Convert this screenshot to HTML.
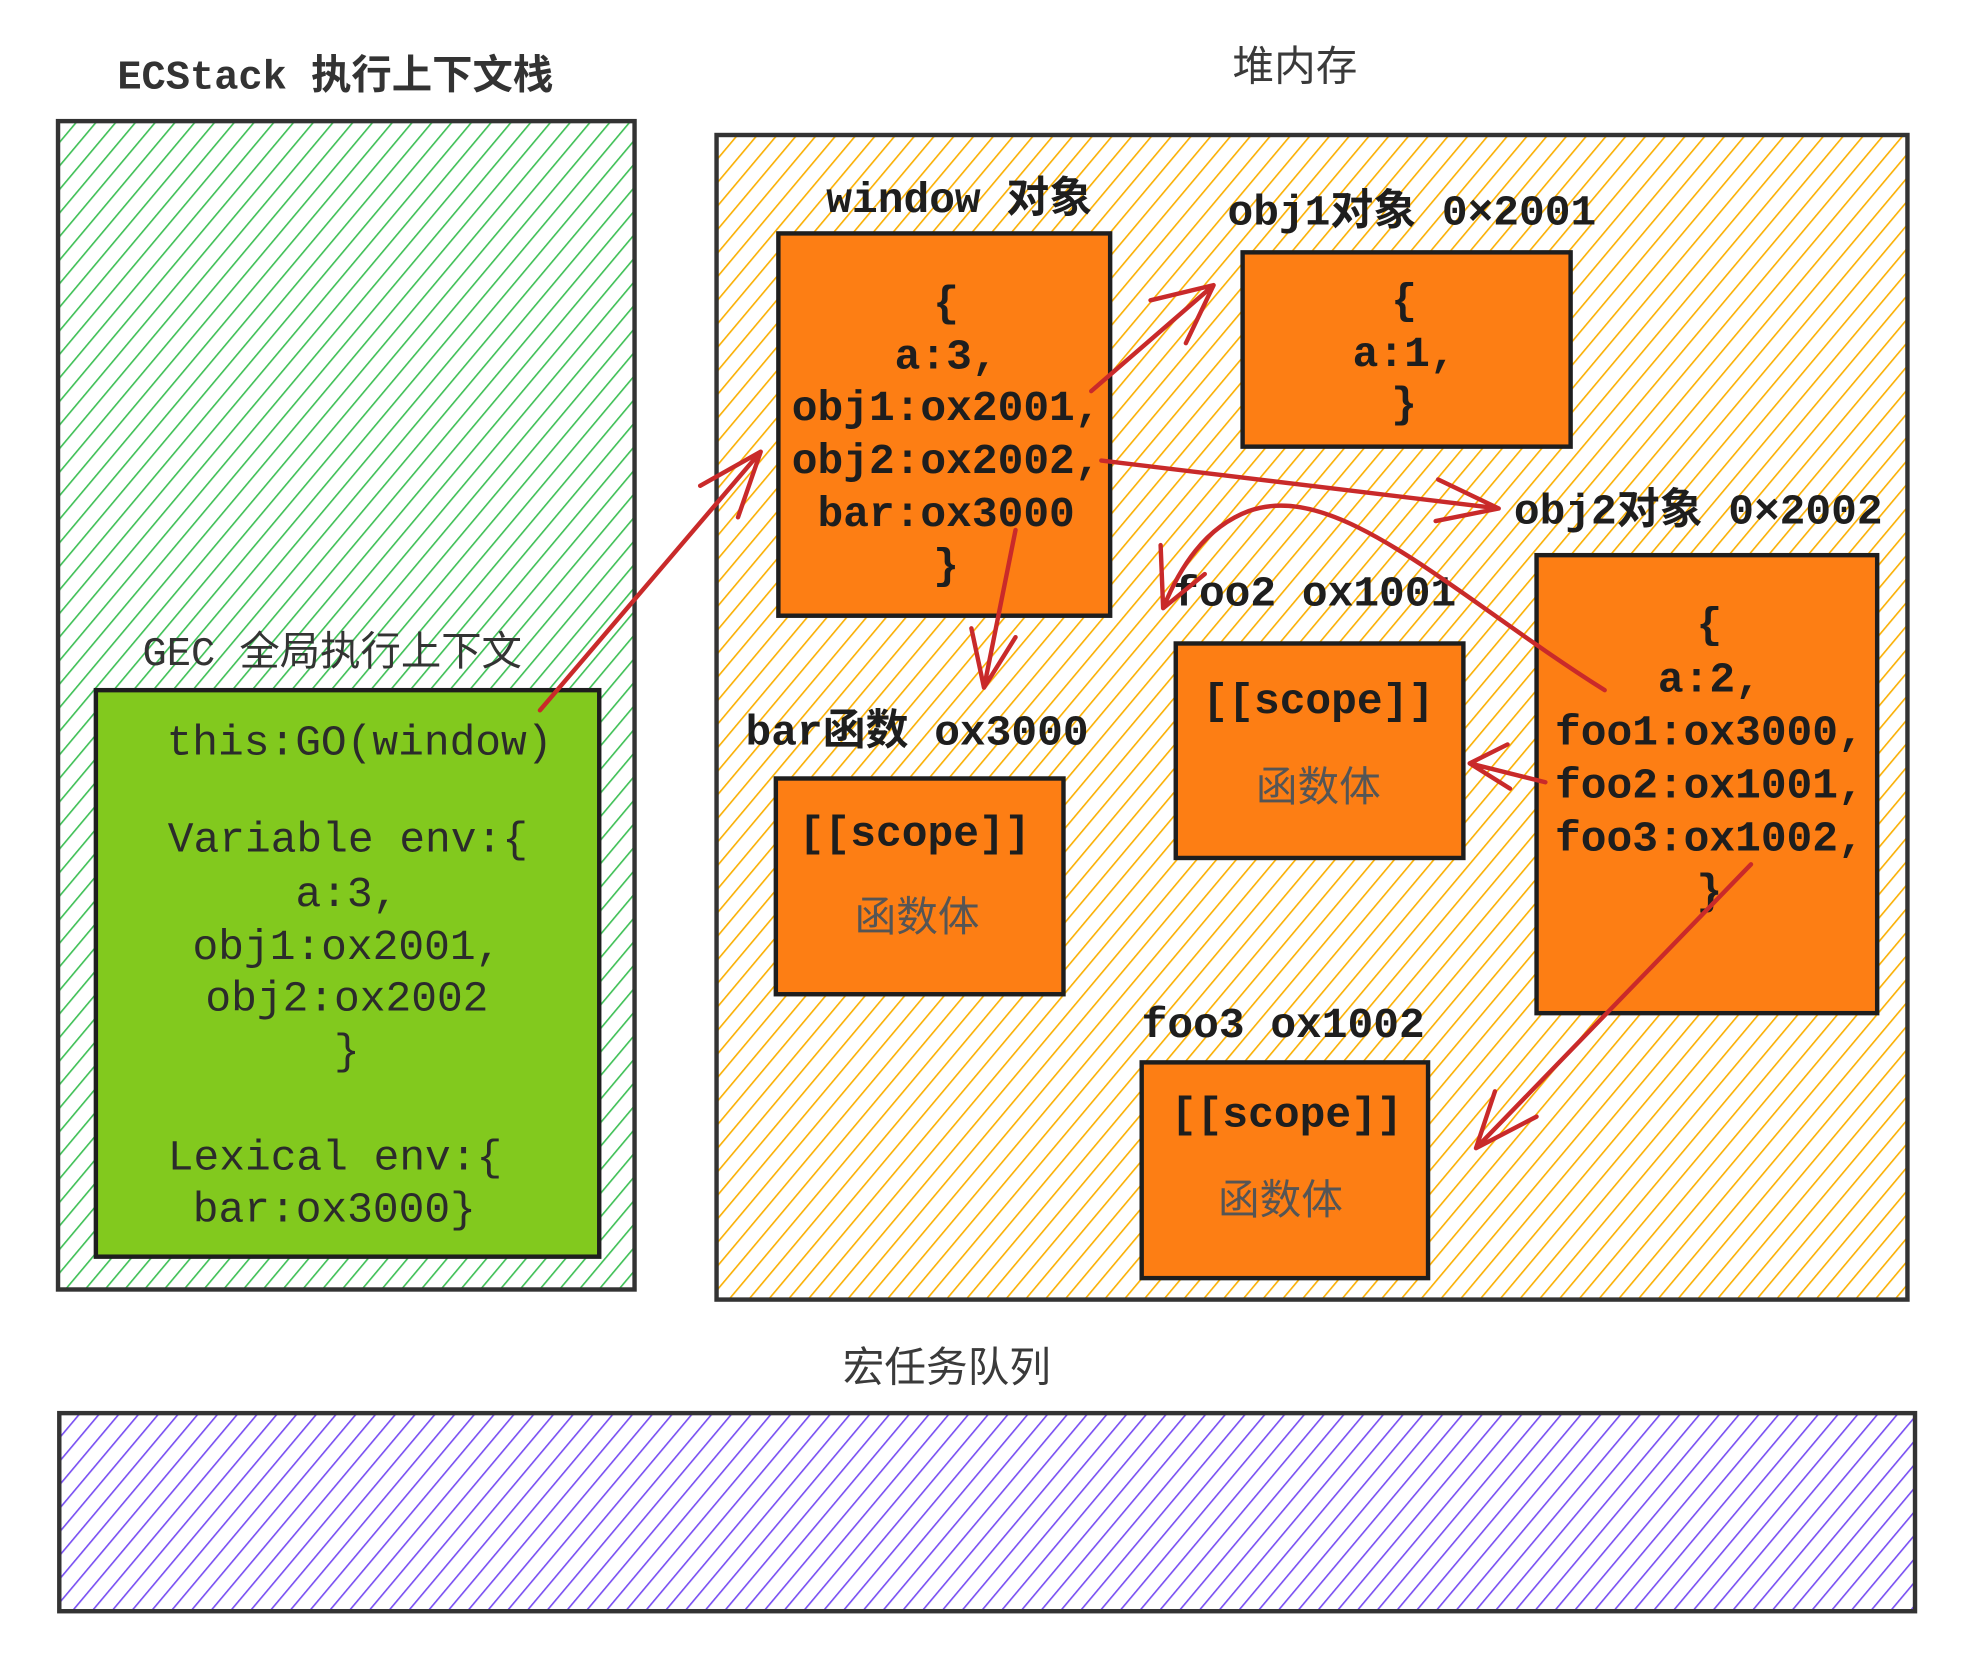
<!DOCTYPE html>
<html><head><meta charset="utf-8"><style>
html,body{margin:0;padding:0;background:#fff;}
svg{display:block;}
.m{font-family:"Liberation Mono","Noto Sans CJK SC",monospace;font-weight:bold;font-size:34px;fill:#1e1e1e;}
.g{font-family:"Liberation Mono","Noto Sans CJK SC",monospace;font-size:34px;fill:#2b2b2b;}
.s{font-family:"Liberation Sans","Noto Sans CJK SC",sans-serif;font-size:33px;fill:#3a3a3a;}
.t{font-family:"Liberation Mono","Noto Sans CJK SC",monospace;font-size:32px;fill:#333;font-weight:bold;}
.box{fill:#fd7e14;stroke:#1e1e1e;stroke-width:3.5;}
.ar{fill:none;stroke:#c92a2a;stroke-width:3.5;stroke-linecap:round;stroke-linejoin:round;}
</style></head><body>
<svg width="1968" height="1668" viewBox="0 0 1560 1322" preserveAspectRatio="none" xmlns="http://www.w3.org/2000/svg">
<defs>
<pattern id="hg" width="12" height="12" patternUnits="userSpaceOnUse" patternTransform="rotate(40)"><line x1="0" y1="0" x2="0" y2="12" stroke="#40c057" stroke-width="2.6"/></pattern>
<pattern id="ho" width="12" height="12" patternUnits="userSpaceOnUse" patternTransform="rotate(40)"><line x1="0" y1="0" x2="0" y2="12" stroke="#fab005" stroke-width="2.6"/></pattern>
<pattern id="hp" width="12" height="12" patternUnits="userSpaceOnUse" patternTransform="rotate(40)"><line x1="0" y1="0" x2="0" y2="12" stroke="#7950f2" stroke-width="2.6"/></pattern>
</defs>
<rect width="1560" height="1322" fill="#fff"/>
<text class="t" x="93" y="70">ECStack 执行上下文栈</text>
<rect x="46" y="96" width="457" height="926" fill="url(#hg)" stroke="#333" stroke-width="3.5"/>
<text class="s" x="977" y="64">堆内存</text>
<rect x="568" y="107" width="944" height="923" fill="url(#ho)" stroke="#333" stroke-width="3.5"/>
<text class="s" x="668" y="1095">宏任务队列</text>
<rect x="47" y="1120" width="1471" height="157" fill="url(#hp)" stroke="#333" stroke-width="3.5"/>

<text class="t" x="113" y="527" style="font-weight:normal">GEC 全局执行上下文</text>
<rect x="76" y="547" width="399" height="449" fill="#82c91e" stroke="#1e1e1e" stroke-width="3.5"/>
<g class="g" text-anchor="middle">
<text x="285" y="598">this:GO(window)</text>
<text x="275" y="718">a:3,</text>
<text x="275" y="760">obj1:ox2001,</text>
<text x="275" y="801">obj2:ox2002</text>
<text x="275" y="843">}</text>
<text x="265" y="968">bar:ox3000}</text>
</g>
<text class="g" x="133" y="675">Variable env:{</text>
<text class="g" x="133" y="927">Lexical env:{</text>

<text class="m" x="655" y="168">window 对象</text>
<rect class="box" x="617" y="185" width="263" height="303"/>
<g class="m" text-anchor="middle">
<text x="750" y="250">{</text><text x="750" y="292">a:3,</text><text x="750" y="333">obj1:ox2001,</text><text x="750" y="375">obj2:ox2002,</text><text x="750" y="417">bar:ox3000</text><text x="750" y="458">}</text>
</g>

<text class="m" x="973" y="178">obj1对象 0×2001</text>
<rect class="box" x="985" y="200" width="260" height="154"/>
<g class="m" text-anchor="middle"><text x="1113" y="248">{</text><text x="1113" y="290">a:1,</text><text x="1113" y="330">}</text></g>

<text class="m" x="1200" y="415">obj2对象 0×2002</text>
<rect class="box" x="1218" y="440" width="270" height="363"/>
<g class="m" text-anchor="middle"><text x="1355" y="505">{</text><text x="1355" y="548">a:2,</text><text x="1355" y="590">foo1:ox3000,</text><text x="1355" y="632">foo2:ox1001,</text><text x="1355" y="674">foo3:ox1002,</text><text x="1355" y="716">}</text></g>

<text class="m" x="930" y="480">foo2 ox1001</text>
<rect class="box" x="932" y="510" width="228" height="170"/>
<text class="m" x="1045" y="565" text-anchor="middle">[[scope]]</text>
<text class="s" x="1045" y="635" text-anchor="middle" style="fill:#555">函数体</text>

<text class="m" x="591" y="590">bar函数 ox3000</text>
<rect class="box" x="615" y="617" width="228" height="171"/>
<text class="m" x="725" y="670" text-anchor="middle">[[scope]]</text>
<text class="s" x="727" y="738" text-anchor="middle" style="fill:#555">函数体</text>

<text class="m" x="905" y="822">foo3 ox1002</text>
<rect class="box" x="905" y="842" width="227" height="171"/>
<text class="m" x="1020" y="893" text-anchor="middle">[[scope]]</text>
<text class="s" x="1015" y="962" text-anchor="middle" style="fill:#555">函数体</text>

<g class="ar">
<path d="M428 563 L603 358 M555 385 L603 358 L585 410"/>
<path d="M865 310 L962 226 M912 238 L962 226 L940 272"/>
<path d="M873 365 L1188 403 M1140 380 L1188 403 L1138 413"/>
<path d="M805 420 L780 545 M770 498 L780 545 L805 505"/>
<path d="M1272 547 C1150 470 1060 380 990 405 C955 418 935 450 922 482 M920 432 L922 482 L955 455"/>
<path d="M1225 620 L1165 605 M1195 590 L1165 605 L1197 625"/>
<path d="M1388 685 L1170 910 M1185 865 L1170 910 L1218 885"/>
</g>
</svg>
</body></html>
